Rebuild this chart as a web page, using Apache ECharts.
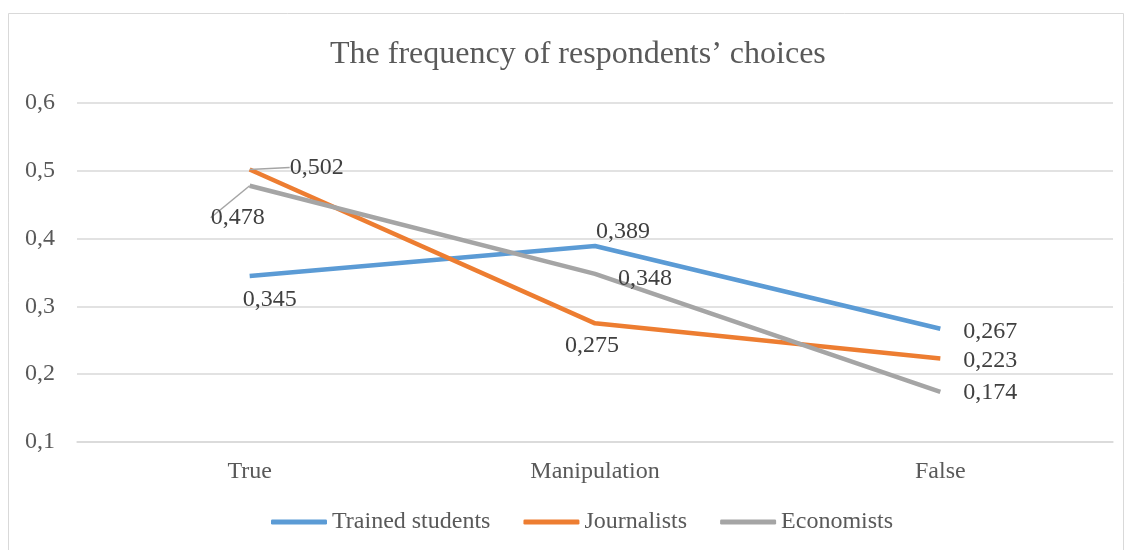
<!DOCTYPE html>
<html>
<head>
    <meta charset="utf-8">
    <script src="https://cdn.jsdelivr.net/npm/echarts@6/dist/echarts.min.js"></script>
</head>
<body style="margin:0">
    <div id="main" style="width:1132px;height:550px;"></div>
</body>
<script type="text/javascript">
    var myChart = echarts.init(document.getElementById("main"));

    // data
    var categories = ['True', 'Manipulation', 'False'];
    var trained = [0.345, 0.389, 0.267];
    var journalists = [0.502, 0.275, 0.223];
    var economists = [0.478, 0.348, 0.174];
    var seriesNames = ['Trained students', 'Journalists', 'Economists'];
    var colors = ['#5B9BD5', '#ED7D31', '#A5A5A5'];

    function comma(v) {
        return String(v).replace('.', ',');
    }

    // label placement per point: side + nudge
    var labelSide = [
        ['bottom', 'top', 'right'],
        ['right', 'bottom', 'right'],
        ['bottom', 'right', 'right']
    ];
    var labelNudge = [
        [{dx: 20, dy: 7}, {dx: 28, dy: 3}, {dx: 18, dy: 3}],
        [{dx: 35, dy: -2}, {dx: -3, dy: 5}, {dx: 18, dy: 2}],
        [{dx: -12, dy: 15}, {dx: 18, dy: 5}, {dx: 18, dy: 1}]
    ];
    // points whose label has a leader line
    var leader = [[], [0], [0]];

    function makeSeries(idx, values) {
        return {
            name: seriesNames[idx],
            type: 'line',
            symbol: 'circle',
            symbolSize: 0,
            lineStyle: {width: 4.5, color: colors[idx]},
            itemStyle: {color: colors[idx]},
            data: values.map(function(v, i) {
                var item = {value: v, label: {position: labelSide[idx][i]}};
                if (leader[idx].indexOf(i) >= 0) {
                    item.labelLine = {show: true};
                }
                return item;
            }),
            label: {
                show: true,
                color: '#404040',
                fontFamily: 'Liberation Serif',
                fontSize: 24,
                formatter: function(p) { return comma(p.value); }
            },
            labelLine: {
                show: false,
                lineStyle: {color: '#A5A5A5', width: 1.5}
            },
            labelLayout: function(p) {
                return labelNudge[idx][p.dataIndex];
            }
        };
    }

    myChart.setOption({
        backgroundColor: '#fff',
        textStyle: {fontFamily: 'Liberation Serif'},
        graphic: [{
            type: 'rect',
            shape: {x: 8.5, y: 13.5, width: 1115, height: 560},
            style: {fill: 'none', stroke: '#d9d9d9', lineWidth: 1}
        }],
        title: {
            text: 'The frequency of respondents\u2019 choices',
            left: 325,
            top: 34,
            textStyle: {
                fontFamily: 'Liberation Serif',
                fontWeight: 'normal',
                fontSize: 32,
                color: '#595959'
            }
        },
        legend: {
            bottom: 11,
            left: 266,
            icon: 'roundRect',
            itemWidth: 56,
            itemHeight: 5,
            itemGap: 33,
            textStyle: {fontFamily: 'Liberation Serif', fontSize: 24, color: '#595959'},
            data: seriesNames
        },
        grid: {left: 77, right: 19, top: 103, bottom: 108},
        xAxis: {
            type: 'category',
            data: categories,
            axisTick: {show: false},
            axisLine: {lineStyle: {color: '#d9d9d9', width: 1.5}},
            axisLabel: {fontFamily: 'Liberation Serif', fontSize: 24, color: '#595959', margin: 18}
        },
        yAxis: {
            type: 'value',
            min: 0.1,
            max: 0.6,
            interval: 0.1,
            axisLine: {show: false},
            axisTick: {show: false},
            splitLine: {lineStyle: {color: '#d9d9d9', width: 1.5}},
            axisLabel: {
                fontFamily: 'Liberation Serif',
                fontSize: 24,
                color: '#595959',
                margin: 22,
                formatter: function(v) { return comma(Math.round(v * 10) / 10); }
            }
        },
        series: [
            makeSeries(0, trained),
            makeSeries(1, journalists),
            makeSeries(2, economists)
        ]
    });
</script>
</html>
